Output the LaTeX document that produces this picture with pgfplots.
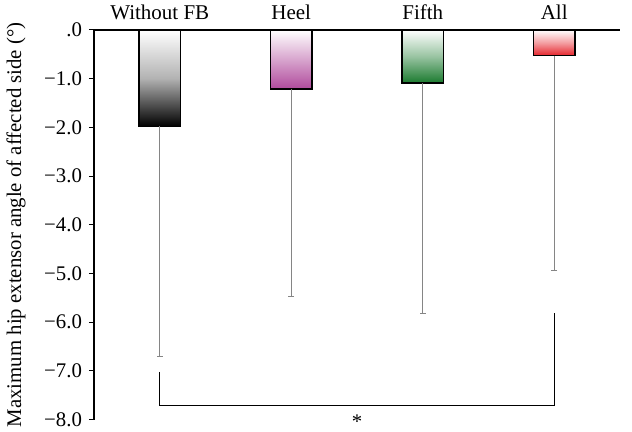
\documentclass[border=0pt]{standalone}
\usepackage{pgfplots}
\pgfplotsset{compat=1.18}
\usepackage{fontspec}
\setmainfont{Liberation Serif}

\definecolor{errgray}{HTML}{858585}
\definecolor{heelmag}{HTML}{B04A9C}
\definecolor{fifthgreen}{HTML}{1A7A2E}
\definecolor{allred}{HTML}{E5232B}

\begin{document}
\begin{tikzpicture}[x=1pt,y=1pt]
\useasboundingbox (-47pt,-6.2pt) rectangle (269pt,209.8pt);
\begin{axis}[
  at={(0,0)}, anchor=south west,
  scale only axis,
  width=263pt, height=194.8pt,
  xmin=-0.5, xmax=3.5,
  ymin=-8, ymax=0,
  axis x line*=top,
  axis y line*=left,
  axis line style={black, line width=0.6pt, -},
  xtick={0,1,2,3},
  xticklabels={Without FB, Heel, Fifth, All},
  x tick label style={font=\fontsize{10.5}{12}\selectfont, yshift=-1pt},
  x tick style={draw=none},
  major x tick style={draw=none},
  ytick={-8,-7,-6,-5,-4,-3,-2,-1,0},
  yticklabels={{−8.0},{−7.0},{−6.0},{−5.0},{−4.0},{−3.0},{−2.0},{−1.0},{.0}},
  y tick label style={font=\fontsize{10.4}{12}\selectfont},
  tick align=outside,
  major tick length=2.5pt,
  y tick style={black, line width=0.5pt},
  ylabel={Maximum hip extensor angle of affected side (°)},
  ylabel style={font=\fontsize{10.4}{12}\selectfont, at={(axis description cs:-0.148,0.5)}, anchor=center},
  clip=false,
  ybar, bar width=20.8pt, bar shift=0pt,
  error bars/y dir=minus,
  error bars/y explicit,
  error bars/error bar style={errgray, line width=0.55pt},
  error bars/error mark options={errgray, line width=0.6pt, mark size=1.5pt, rotate=90},
]
% mean values with their lower deviation
\addplot[draw=black, line width=0.6pt, top color=white, bottom color=black, middle color=white!70!black]
  coordinates {(0,-1.98) -= (0,4.73)};
\addplot[draw=black, line width=0.6pt, top color=white, bottom color=heelmag, middle color=heelmag!50!white]
  coordinates {(1,-1.21) -= (0,4.27)};
\addplot[draw=black, line width=0.6pt, top color=white, bottom color=fifthgreen, middle color=fifthgreen!45!white]
  coordinates {(2,-1.09) -= (0,4.73)};
\addplot[draw=black, line width=0.6pt, top color=white, bottom color=allred, middle color=allred!45!white]
  coordinates {(3,-0.53) -= (0,4.41)};

% significance bracket between Without FB and All
\addplot[sharp plot, black, line width=0.6pt, no marks, forget plot]
  coordinates {(0,-7.02) (0,-7.71) (3,-7.71) (3,-5.82)};
\node[font=\fontsize{10.4}{12}\selectfont, anchor=base] at (axis cs:1.5,-8.19) {*};
\end{axis}
\end{tikzpicture}
\end{document}
